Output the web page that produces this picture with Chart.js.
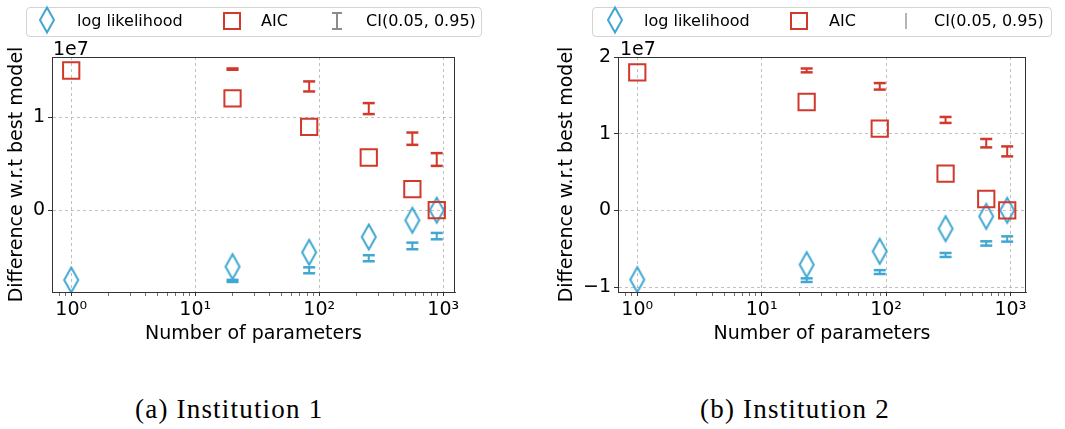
<!DOCTYPE html>
<html lang="en">
<head>
<meta charset="UTF-8">
<title>Difference w.r.t best model</title>
<script src="https://cdn.jsdelivr.net/npm/chart.js"></script>
<style>
  body { margin: 0; background: #fff; font-family: 'DejaVu Sans', sans-serif; color: #000; }
  #page { position: relative; width: 1065px; height: 429px; overflow: hidden; }
  canvas { position: absolute; top: 0; }
  .legend { position: absolute; top: 7px; height: 28px; border: 1px solid #d4d4d4; border-radius: 4px; background: #fff; font-size: 16px; z-index: 2; }
  .legend span, .legend svg { position: absolute; }
  .legend span { top: 3px; line-height: 20px; white-space: nowrap; }
  .offset { position: absolute; top: 39px; font-size: 19px; line-height: 19px; }
  .caption { position: absolute; top: 396px; font-family: 'Liberation Serif', serif; font-size: 27px; line-height: 27px; letter-spacing: 1.2px; }
</style>
</head>
<body>
<div id="page">
  <canvas id="inst1" width="530" height="380" style="left:0"></canvas>
  <canvas id="inst2" width="535" height="380" style="left:530px"></canvas>

  <div class="legend" style="left:26px; width:454px;">
    <svg width="20" height="30" style="left:10px; top:-3px"><path d="M10 2.5 L17 15 L10 27.5 L3 15 Z" fill="none" stroke="#3fa7d1" stroke-width="2"/></svg>
    <span style="left:50px">log likelihood</span>
    <svg width="20" height="20" style="left:195px; top:3px"><rect x="2" y="2" width="16" height="16" fill="none" stroke="#d0392b" stroke-width="2"/></svg>
    <span style="left:234px">AIC</span>
    <svg width="14" height="20" style="left:303px; top:3px"><path d="M2 2 H12 M7 2 V18 M2 18 H12" fill="none" stroke="#8c8c8c" stroke-width="2"/></svg>
    <span style="left:339px">CI(0.05, 0.95)</span>
  </div>

  <div class="legend" style="left:592px; width:458px;">
    <svg width="20" height="30" style="left:12px; top:-3px"><path d="M10 2.5 L17 15 L10 27.5 L3 15 Z" fill="none" stroke="#3fa7d1" stroke-width="2"/></svg>
    <span style="left:51px">log likelihood</span>
    <svg width="20" height="20" style="left:196px; top:3px"><rect x="2" y="2" width="16" height="16" fill="none" stroke="#d0392b" stroke-width="2"/></svg>
    <span style="left:236px">AIC</span>
    <svg width="14" height="20" style="left:306px; top:3px"><path d="M7 2 V18" fill="none" stroke="#b4b4b4" stroke-width="2"/></svg>
    <span style="left:341px">CI(0.05, 0.95)</span>
  </div>

  <div class="offset" style="left:53px">1e7</div>
  <div class="offset" style="left:620px">1e7</div>

  <div class="caption" style="left:135px">(a) Institution 1</div>
  <div class="caption" style="left:700px">(b) Institution 2</div>
</div>

<script>
// Institution 1
const paramsInst1 = [1, 20, 83, 251, 564, 887];
const aicInst1 = [1.50e7, 1.20e7, 0.896e7, 0.566e7, 0.226e7, 0];
const llInst1 = [-0.749e7, -0.606e7, -0.452e7, -0.287e7, -0.108e7, 0];
const aicLoInst1 = [null, 1.508e7, 1.275e7, 1.032e7, 0.702e7, 0.476e7];
const aicHiInst1 = [null, 1.522e7, 1.383e7, 1.150e7, 0.834e7, 0.613e7];
const llLoInst1 = [null, -0.770e7, -0.677e7, -0.548e7, -0.419e7, -0.312e7];
const llHiInst1 = [null, -0.748e7, -0.613e7, -0.483e7, -0.348e7, -0.244e7];

// Institution 2
const paramsInst2 = [1, 23, 89, 301, 639, 942];
const aicInst2 = [1.80e7, 1.413e7, 1.065e7, 0.478e7, 0.148e7, 0];
const llInst2 = [-0.904e7, -0.708e7, -0.535e7, -0.239e7, -0.078e7, 0];
const aicLoInst2 = [null, 1.80e7, 1.575e7, 1.140e7, 0.821e7, 0.704e7];
const aicHiInst2 = [null, 1.85e7, 1.660e7, 1.218e7, 0.931e7, 0.834e7];
const llLoInst2 = [null, -0.934e7, -0.830e7, -0.608e7, -0.460e7, -0.408e7];
const llHiInst2 = [null, -0.887e7, -0.780e7, -0.556e7, -0.404e7, -0.339e7];

// axis ticks
const xTickValues = [0.8, 0.9, 1, 2, 3, 4, 5, 6, 7, 8, 9, 10, 20, 30, 40, 50, 60, 70, 80, 90,
  100, 200, 300, 400, 500, 600, 700, 800, 900, 1000];
const xTickLabels = { 1: '10\u2070', 10: '10\u00b9', 100: '10\u00b2', 1000: '10\u00b3' };
const yTicksInst1 = [0, 1e7];
const yTicksInst2 = [-1e7, 0, 1e7, 2e7];

const RED = '#d0392b';
const BLUE = '#3fa7d1';
const FONT = 'DejaVu Sans';

function isMajor(v) { return xTickLabels[v] !== undefined; }

function fmtY(v) {
  const n = Math.round(v / 1e7);
  return n < 0 ? '\u2212' + (-n) : String(n);
}

// thin diamond marker
function diamond(color) {
  const c = document.createElement('canvas');
  c.width = 20; c.height = 30;
  const g = c.getContext('2d');
  g.strokeStyle = color;
  g.lineWidth = 2;
  g.beginPath();
  g.moveTo(10, 2.5); g.lineTo(17, 15); g.lineTo(10, 27.5); g.lineTo(3, 15);
  g.closePath();
  g.stroke();
  return c;
}

// error bars: low/high pairs split by null gaps
function ciPoints(xs, lo, hi) {
  const pts = [];
  xs.forEach((x, i) => {
    if (lo[i] == null) return;
    pts.push({ x: x, y: lo[i] }, { x: x, y: hi[i] }, { x: x, y: null });
  });
  return pts;
}

const frame = {
  id: 'frame',
  afterDraw(chart) {
    const { ctx, chartArea: a } = chart;
    ctx.save();
    ctx.strokeStyle = '#333';
    ctx.lineWidth = 1;
    ctx.strokeRect(Math.round(a.left) + 0.5, Math.round(a.top) + 0.5,
      Math.round(a.right - a.left) - 1, Math.round(a.bottom - a.top));
    ctx.restore();
  }
};

function makeChart(id, xs, aic, ll, aicLo, aicHi, llLo, llHi, o) {
  const errBar = (color, data) => ({
    data: data, showLine: true, spanGaps: false,
    borderColor: color, borderWidth: 2,
    pointStyle: 'line', pointRadius: 6, pointBorderWidth: 2.5, pointBorderColor: color
  });
  new Chart(document.getElementById(id), {
    type: 'scatter',
    data: {
      datasets: [
        errBar(RED, ciPoints(xs, aicLo, aicHi)),
        errBar(BLUE, ciPoints(xs, llLo, llHi)),
        {
          label: 'AIC',
          data: xs.map((x, i) => ({ x: x, y: aic[i] })),
          pointStyle: 'rect', pointRadius: 11.5, pointBorderWidth: 2,
          pointBorderColor: RED, pointBackgroundColor: 'rgba(0,0,0,0)'
        },
        {
          label: 'log likelihood',
          data: xs.map((x, i) => ({ x: x, y: ll[i] })),
          pointStyle: diamond(BLUE), pointRadius: 10
        }
      ]
    },
    options: {
      responsive: false,
      animation: false,
      layout: { padding: { top: 57, right: o.padRight, bottom: 0, left: 0 } },
      plugins: { legend: { display: false }, tooltip: { enabled: false } },
      scales: {
        x: {
          type: 'logarithmic',
          min: o.xMin, max: o.xMax,
          afterBuildTicks: s => { s.ticks = xTickValues.map(v => ({ value: v, major: isMajor(v) })); },
          afterFit: s => { s.height = 88; },
          ticks: {
            autoSkip: false, maxRotation: 0, padding: 3, color: '#000',
            font: { family: FONT, size: 19 },
            callback: v => xTickLabels[v] || ''
          },
          grid: {
            color: c => (c.tick && isMajor(c.tick.value)) ? '#b0b0b0' : 'rgba(0,0,0,0)',
            lineWidth: 0.8, tickLength: 4, tickColor: '#333',
            tickWidth: c => (c.tick && isMajor(c.tick.value)) ? 1 : 0.7
          },
          border: { color: '#333', width: 1, dash: [3, 3] },
          title: {
            display: true, text: 'Number of parameters', color: '#000',
            font: { family: FONT, size: 19 }, padding: { top: 0, bottom: 35 }
          }
        },
        y: {
          min: o.yMin, max: o.yMax,
          afterBuildTicks: s => { s.ticks = o.yTicks.map(v => ({ value: v })); },
          afterFit: s => { s.width = o.axisW; },
          ticks: {
            padding: 3, color: '#000',
            font: { family: FONT, size: 19 },
            callback: v => fmtY(v)
          },
          grid: { color: '#b0b0b0', lineWidth: 0.8, tickLength: 4, tickColor: '#333', tickWidth: 1 },
          border: { color: '#333', width: 1, dash: [3, 3] },
          title: {
            display: true, text: 'Difference w.r.t best model', color: '#000',
            font: { family: FONT, size: 19 }, padding: { top: o.titlePad, bottom: 0 }
          }
        }
      }
    },
    plugins: [frame]
  });
}

makeChart('inst1', paramsInst1, aicInst1, llInst1, aicLoInst1, aicHiInst1, llLoInst1, llHiInst1, {
  xMin: 0.713, xMax: 1245, yMin: -0.878e7, yMax: 1.645e7, yTicks: yTicksInst1,
  axisW: 52, padRight: 75, titlePad: 6
});
makeChart('inst2', paramsInst2, aicInst2, llInst2, aicLoInst2, aicHiInst2, llLoInst2, llHiInst2, {
  xMin: 0.703, xMax: 1334, yMin: -1.065e7, yMax: 2.0e7, yTicks: yTicksInst2,
  axisW: 88, padRight: 39, titlePad: 26
});
</script>
</body>
</html>
